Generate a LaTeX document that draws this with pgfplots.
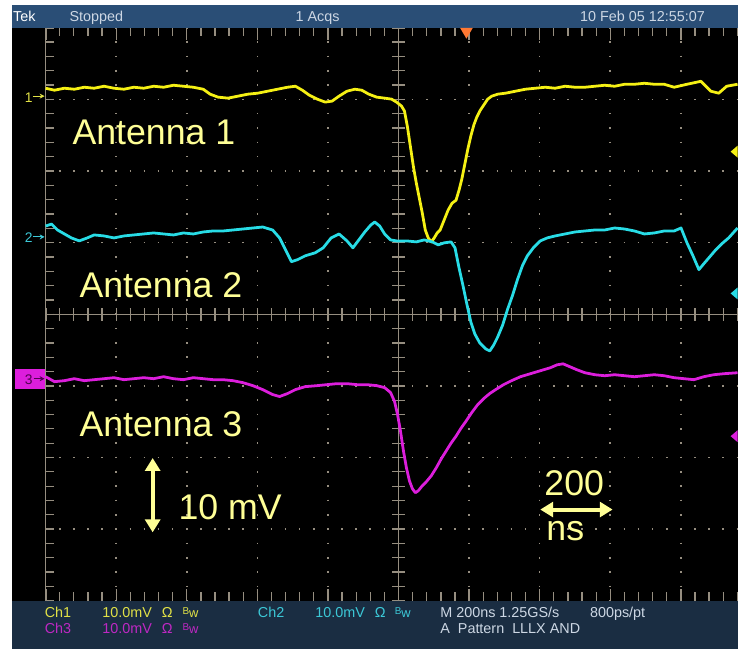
\documentclass[border=0pt]{standalone}
\usepackage{fontspec}
\setmainfont{Liberation Sans}
\usepackage{graphicx}
\usepackage{pgfplots}
\pgfplotsset{compat=1.18}
\usetikzlibrary{arrows.meta}
\definecolor{chA}{RGB}{245,240,20}
\definecolor{chB}{RGB}{40,220,230}
\definecolor{chC}{RGB}{220,30,220}
\definecolor{chAt}{RGB}{225,225,70}
\definecolor{chBt}{RGB}{60,200,215}
\definecolor{chCt}{RGB}{190,40,195}
\definecolor{dkpurple}{RGB}{80,0,80}
\definecolor{labelc}{RGB}{255,255,150}
\definecolor{topbar}{RGB}{42,78,118}
\definecolor{botbar}{RGB}{26,45,66}
\definecolor{topt}{RGB}{205,215,228}
\definecolor{gridc}{RGB}{150,142,128}
\definecolor{trig}{RGB}{255,120,50}
\newcommand{\bw}{\raisebox{3pt}{\fontsize{10}{10}\selectfont B}{\fontsize{13}{13}\selectfont w}}
\begin{document}
\begin{tikzpicture}
\begin{axis}[
  scale only axis, width=744pt, height=655pt,
  xmin=0, xmax=744, ymin=0, ymax=655, y dir=reverse,
  hide axis, clip=false,
]
% background and bars
\fill[white] (axis cs:0,0) rectangle (axis cs:744,655);
\fill[black] (axis cs:12,28) rectangle (axis cs:744,606);
\fill[topbar] (axis cs:12,5) rectangle (axis cs:744,28);
\fill[botbar] (axis cs:12,606) rectangle (axis cs:744,655);
% dotted graticule
\pgfplotsinvokeforeach{117.2,188.4,259.6,330.8,473.2,544.4,615.6,686.8}{
  \draw[gridc, line width=1.6pt, dash pattern=on 1.6pt off 12.85pt, dash phase=0.8pt] (axis cs:#1,28) -- (axis cs:#1,606);
}
\pgfplotsinvokeforeach{100.25,172.5,244.75,389.25,461.5,533.75}{
  \draw[gridc, line width=1.6pt, dash pattern=on 1.6pt off 12.64pt, dash phase=0.8pt] (axis cs:46,#1) -- (axis cs:744,#1);
}
% centre lines with ticks
\draw[gridc, line width=1.3pt] (axis cs:402,28) -- (axis cs:402,606);
\draw[gridc, line width=1.3pt] (axis cs:46,317) -- (axis cs:744,317);
\draw[gridc, line width=13pt, dash pattern=on 1.3pt off 13.15pt, dash phase=0.65pt] (axis cs:402,28) -- (axis cs:402,606);
\draw[gridc, line width=13pt, dash pattern=on 1.3pt off 12.94pt, dash phase=0.65pt] (axis cs:46,317) -- (axis cs:744,317);
% edges with ticks
\draw[gridc, line width=1.3pt] (axis cs:46,28) -- (axis cs:46,606);
\draw[gridc, line width=8pt, dash pattern=on 1.3pt off 13.15pt, dash phase=0.65pt] (axis cs:50,28) -- (axis cs:50,606);
\draw[gridc, line width=8pt, dash pattern=on 1.3pt off 12.94pt, dash phase=0.65pt] (axis cs:46,32) -- (axis cs:744,32);
\draw[gridc, line width=12pt, dash pattern=on 1.3pt off 69.9pt, dash phase=0.65pt] (axis cs:46,34) -- (axis cs:744,34);
\draw[gridc, line width=9pt, dash pattern=on 1.3pt off 12.94pt, dash phase=0.65pt] (axis cs:46,601.5) -- (axis cs:744,601.5);
\draw[gridc, line width=12pt, dash pattern=on 1.3pt off 69.9pt, dash phase=0.65pt] (axis cs:46,600) -- (axis cs:744,600);
% trigger marker
\fill[trig] (axis cs:464,28) -- (axis cs:477,28) -- (axis cs:470.5,39) -- cycle;

% Channel 1 (yellow)
\addplot[chA, line width=2.8pt, line join=round] coordinates {
(46,89) (55,91) (65,89) (75,90) (85,88) (95,89) (105,87) (115,89) (125,90) (135,88)
(145,89) (155,87) (165,88) (175,86) (185,87) (195,88) (205,90) (212,95) (220,98) (230,99)
(240,97) (250,95) (260,94) (270,92) (280,90) (290,88) (298,87) (305,91) (312,96) (320,100)
(328,103) (335,102) (342,97) (350,92) (358,90) (365,91) (372,95) (380,98) (388,99) (395,100)
(400,103) (405,107) (408,112) (411,128) (414,148) (417,168) (420,185) (423,200) (426,215) (429,232)
(432,240) (435,244) (438,240) (441,235) (444,232) (448,222) (452,212) (456,205) (460,202) (463,192)
(466,180) (469,165) (472,150) (475,137) (478,126) (481,118) (484,112) (488,106) (492,100) (496,97)
(502,95) (510,94) (520,92) (530,90) (540,89) (550,88) (560,89) (570,87) (580,88) (590,88)
(600,87) (610,86) (620,87) (630,85) (640,85) (650,84) (660,85) (670,85) (680,88) (693,85)
(707,82) (717,92) (725,94) (733,87) (744,85)
};
% Channel 2 (cyan)
\addplot[chB, line width=2.8pt, line join=round] coordinates {
(46,228) (52,226) (58,232) (65,236) (72,240) (80,243) (88,240) (95,237) (105,238) (115,240)
(125,238) (135,237) (145,236) (155,235) (165,236) (175,237) (185,235) (195,236) (205,234) (215,233)
(225,233) (235,232) (245,231) (255,230) (265,229) (275,232) (282,240) (288,252) (294,264) (300,262)
(308,258) (318,255) (326,250) (334,240) (342,236) (350,243) (356,250) (362,242) (368,234) (374,227)
(378,224) (383,228) (388,236) (394,242) (400,243) (410,243) (420,244) (428,242) (436,244) (442,247)
(448,245) (455,244) (459,250) (463,270) (467,288) (471,307) (475,325) (479,337) (484,346) (490,352)
(494,354) (498,348) (502,340) (507,328) (512,312) (517,298) (522,282) (527,268) (532,258) (538,250)
(545,243) (552,240) (560,238) (570,236) (580,234) (590,233) (600,232) (610,232) (620,230) (630,231)
(640,233) (650,236) (660,235) (670,233) (680,233) (687,230) (693,245) (699,258) (705,272) (710,266)
(716,259) (722,252) (728,246) (735,240) (744,230)
};
% Channel 3 (magenta)
\addplot[chC, line width=2.8pt, line join=round] coordinates {
(46,380) (55,385) (65,384) (75,382) (85,384) (95,383) (105,382) (115,381) (125,383) (135,382)
(145,381) (155,382) (165,380) (175,382) (185,383) (195,381) (205,382) (215,383) (225,383) (235,384)
(245,386) (255,389) (265,393) (275,398) (282,400) (290,397) (298,393) (308,390) (320,389) (330,388)
(340,387) (350,387) (360,388) (370,388) (380,389) (388,391) (394,396) (398,405) (401,418) (404,435)
(407,455) (410,472) (413,485) (416,493) (419,497) (422,495) (426,490) (430,486) (435,480) (440,472)
(445,463) (450,455) (455,447) (460,440) (465,432) (470,425) (476,416) (482,408) (488,402) (494,397)
(500,393) (508,388) (516,384) (525,380) (535,377) (545,374) (555,371) (562,368) (568,367) (575,370)
(582,373) (590,376) (600,378) (610,379) (620,378) (630,379) (640,380) (650,379) (660,378) (670,379)
(680,381) (690,382) (700,383) (710,380) (720,378) (730,377) (744,376)
};

% channel markers left
\node[anchor=base west, inner sep=0, text=chAt, font=\fontsize{14}{14}\selectfont] at (axis cs:25,103) {1};
\draw[chAt, line width=1pt, -{Stealth[length=5pt,width=5pt]}] (axis cs:33,97) -- (axis cs:45,97);
\node[anchor=base west, inner sep=0, text=chBt, font=\fontsize{14}{14}\selectfont] at (axis cs:25,245) {2};
\draw[chBt, line width=1pt, -{Stealth[length=5pt,width=5pt]}] (axis cs:33,239) -- (axis cs:45,239);
\fill[chC] (axis cs:15,372) rectangle (axis cs:45,392);
\node[anchor=base west, inner sep=0, text=dkpurple, font=\fontsize{14}{14}\selectfont] at (axis cs:25,388) {3};
\draw[dkpurple, line width=1pt, -{Stealth[length=5pt,width=5pt]}] (axis cs:34,382) -- (axis cs:45,382);
% right markers
\fill[chA] (axis cs:737,153) -- (axis cs:744,147) -- (axis cs:744,159) -- cycle;
\fill[chB] (axis cs:737,296) -- (axis cs:744,290) -- (axis cs:744,302) -- cycle;
\fill[chC] (axis cs:737,440) -- (axis cs:744,434) -- (axis cs:744,446) -- cycle;

% big labels
\node[anchor=base west, inner sep=0, text=labelc, font=\fontsize{36}{40}\selectfont] at (axis cs:73,146) {Antenna 1};
\node[anchor=base west, inner sep=0, text=labelc, font=\fontsize{36}{40}\selectfont] at (axis cs:80,300) {Antenna 2};
\node[anchor=base west, inner sep=0, text=labelc, font=\fontsize{36}{40}\selectfont] at (axis cs:80,440) {Antenna 3};
\node[anchor=base west, inner sep=0, text=labelc, font=\fontsize{36}{40}\selectfont] at (axis cs:180,524) {10 mV};
\node[anchor=base west, inner sep=0, text=labelc, font=\fontsize{36}{40}\selectfont] at (axis cs:549,500) {200};
\node[anchor=base west, inner sep=0, text=labelc, font=\fontsize{36}{40}\selectfont] at (axis cs:551,545) {ns};
\draw[labelc, line width=4pt, {Triangle[length=13pt,width=15pt]}-{Triangle[length=13pt,width=15pt]}] (axis cs:154,462) -- (axis cs:154,537);
\draw[labelc, line width=4pt, {Triangle[length=13pt,width=15pt]}-{Triangle[length=13pt,width=15pt]}] (axis cs:545,514) -- (axis cs:618,514);

% top bar texts
\node[anchor=base west, inner sep=0, text=white, font=\fontsize{14.5}{14.5}\selectfont] at (axis cs:13,22) {Tek};
\node[anchor=base west, inner sep=0, text=topt, font=\fontsize{14.5}{14.5}\selectfont] at (axis cs:70,22) {Stopped};
\node[anchor=base west, inner sep=0, text=topt, font=\fontsize{14.5}{14.5}\selectfont] at (axis cs:298,22) {1 Acqs};
\node[anchor=base west, inner sep=0, text=topt, font=\fontsize{14.5}{14.5}\selectfont] at (axis cs:585,22) {10 Feb 05 12:55:07};

% bottom bar texts
\node[anchor=base west, inner sep=0, text=chAt, font=\fontsize{14.5}{14.5}\selectfont] at (axis cs:45,623) {Ch1};
\node[anchor=base west, inner sep=0, text=chAt, font=\fontsize{14.5}{14.5}\selectfont] at (axis cs:103,623) {10.0mV};
\node[anchor=base west, inner sep=0, text=chAt, font=\fontsize{14.5}{14.5}\selectfont] at (axis cs:163,623) {Ω};
\node[anchor=base west, inner sep=0, text=chAt] at (axis cs:184,623) {\bw};
\node[anchor=base west, inner sep=0, text=chBt, font=\fontsize{14.5}{14.5}\selectfont] at (axis cs:260,623) {Ch2};
\node[anchor=base west, inner sep=0, text=chBt, font=\fontsize{14.5}{14.5}\selectfont] at (axis cs:318,623) {10.0mV};
\node[anchor=base west, inner sep=0, text=chBt, font=\fontsize{14.5}{14.5}\selectfont] at (axis cs:378,623) {Ω};
\node[anchor=base west, inner sep=0, text=chBt] at (axis cs:398,623) {\bw};
\node[anchor=base west, inner sep=0, text=topt, font=\fontsize{14.5}{14.5}\selectfont] at (axis cs:444,623) {M 200ns 1.25GS/s};
\node[anchor=base west, inner sep=0, text=topt, font=\fontsize{14.5}{14.5}\selectfont] at (axis cs:595,623) {800ps/pt};
\node[anchor=base west, inner sep=0, text=chCt, font=\fontsize{14.5}{14.5}\selectfont] at (axis cs:45,639) {Ch3};
\node[anchor=base west, inner sep=0, text=chCt, font=\fontsize{14.5}{14.5}\selectfont] at (axis cs:103,639) {10.0mV};
\node[anchor=base west, inner sep=0, text=chCt, font=\fontsize{14.5}{14.5}\selectfont] at (axis cs:163,639) {Ω};
\node[anchor=base west, inner sep=0, text=chCt] at (axis cs:184,639) {\bw};
\node[anchor=base west, inner sep=0, text=topt, font=\fontsize{14.5}{14.5}\selectfont] at (axis cs:444,639) {A\ \ Pattern\ \ LLLX AND};
\end{axis}
\end{tikzpicture}
\end{document}
